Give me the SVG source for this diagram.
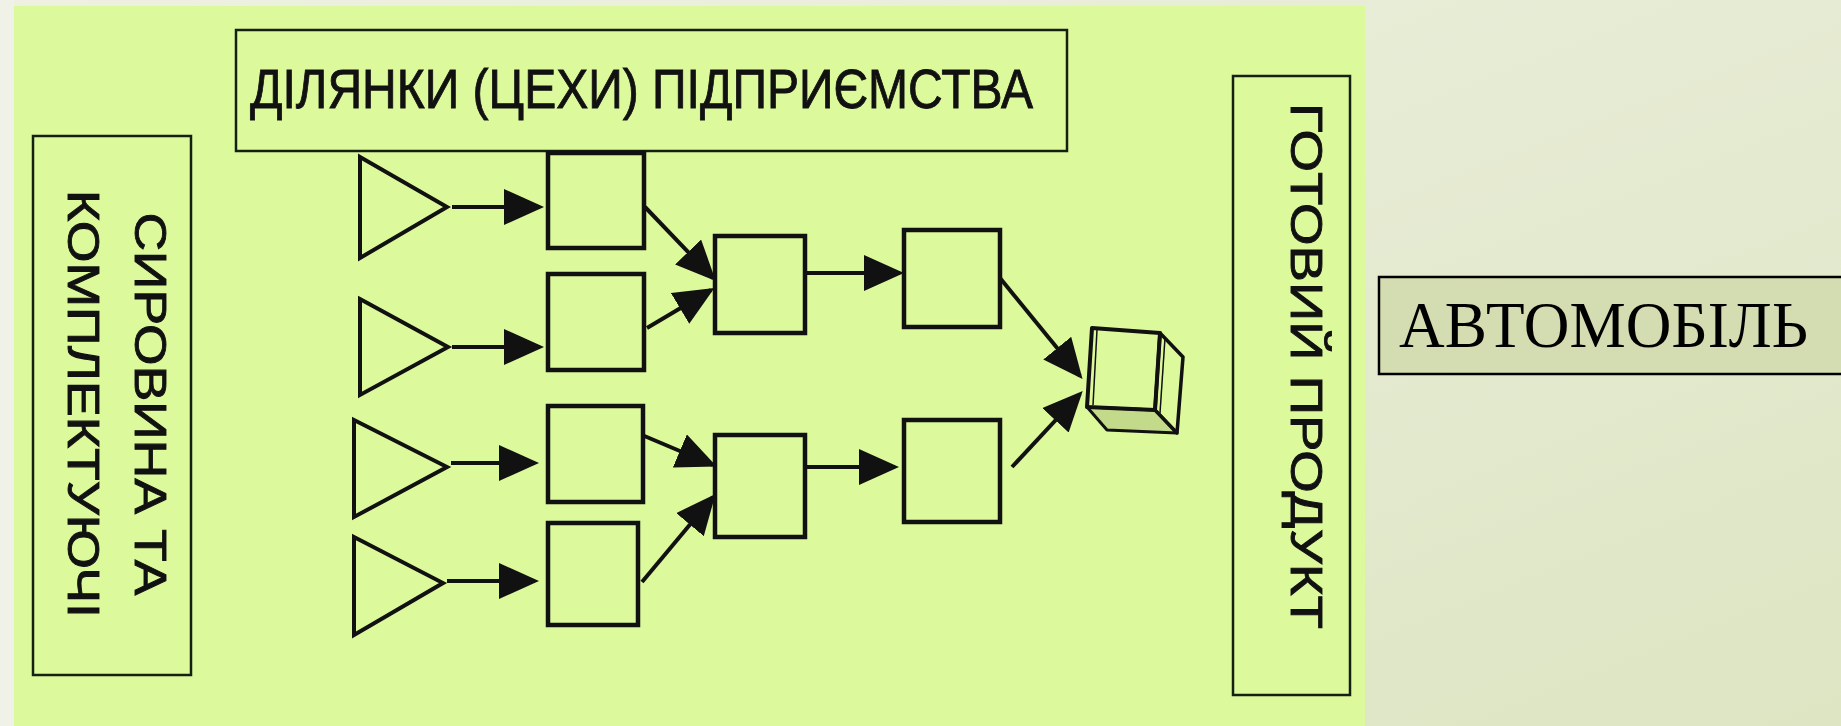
<svg xmlns="http://www.w3.org/2000/svg" width="1841" height="726" viewBox="0 0 1841 726">
  <defs>
    <linearGradient id="bg" x1="0" y1="0" x2="1" y2="1">
      <stop offset="0" stop-color="#eef1e2"/>
      <stop offset="1" stop-color="#dde5c3"/>
    </linearGradient>
    <marker id="ah" markerUnits="userSpaceOnUse" markerWidth="42" markerHeight="38" refX="36" refY="18" orient="auto" viewBox="0 0 42 38">
      <path d="M0,0 L40,18 L0,36 Z" fill="#111"/>
    </marker>
    <style>
      .frame { fill: none; stroke: #142010; stroke-width: 2.5; }
      .shape { fill: none; stroke: #111; stroke-width: 4.5; }
      .tri { fill: none; stroke: #111; stroke-width: 4; stroke-linejoin: miter; }
      .conn { fill: none; stroke: #111; stroke-width: 4; marker-end: url(#ah); }
      .sans { font-family: "Liberation Sans", Arial, sans-serif; fill: #111; stroke: #111; stroke-width: 0.9; }
      .serif { font-family: "Liberation Serif", "Times New Roman", serif; fill: #000; }
    </style>
  </defs>

  <rect x="0" y="0" width="1841" height="726" fill="url(#bg)"/>
  <rect x="0" y="0" width="14" height="726" fill="#f0f2e8"/>
  <rect x="14" y="6" width="1351" height="720" fill="#dcf99c"/>

  <g id="header">
    <rect class="frame" x="236" y="30" width="831" height="121"/>
    <text class="sans" x="250" y="108" font-size="56" textLength="783" lengthAdjust="spacingAndGlyphs">ДІЛЯНКИ (ЦЕХИ) ПІДПРИЄМСТВА</text>
  </g>

  <g id="raw-materials">
    <rect class="frame" x="33" y="136" width="158" height="539"/>
    <text class="sans" transform="translate(135,404) rotate(90)" x="0" y="0" font-size="45" text-anchor="middle" textLength="383" lengthAdjust="spacingAndGlyphs">СИРОВИНА ТА</text>
    <text class="sans" transform="translate(68,404) rotate(90)" x="0" y="0" font-size="45" text-anchor="middle" textLength="428" lengthAdjust="spacingAndGlyphs">КОМПЛЕКТУЮЧІ</text>
  </g>

  <g id="finished-product">
    <rect class="frame" x="1233" y="76" width="117" height="619"/>
    <text class="sans" transform="translate(1291,366) rotate(90)" x="0" y="0" font-size="45" text-anchor="middle" textLength="526" lengthAdjust="spacingAndGlyphs">ГОТОВИЙ ПРОДУКТ</text>
  </g>

  <g id="automobile">
    <rect x="1379" y="277" width="480" height="97" fill="#d4dcb2" stroke="#000" stroke-width="2.5"/>
    <text class="serif" x="1399" y="347" font-size="65" textLength="409" lengthAdjust="spacingAndGlyphs">АВТОМОБІЛЬ</text>
  </g>

  <g id="source-1"><polygon class="tri" points="360,157 447,207 360,258"/></g>
  <g id="source-2"><polygon class="tri" points="360,299 448,347 360,395"/></g>
  <g id="source-3"><polygon class="tri" points="354,420 447,467 354,517"/></g>
  <g id="source-4"><polygon class="tri" points="354,537 443,583 354,635"/></g>

  <g id="shop-b1"><rect class="shape" x="548" y="153" width="96" height="95"/></g>
  <g id="shop-b2"><rect class="shape" x="548" y="274" width="96" height="96"/></g>
  <g id="shop-b3"><rect class="shape" x="548" y="406" width="95" height="96"/></g>
  <g id="shop-b4"><rect class="shape" x="548" y="523" width="90" height="102"/></g>

  <g id="shop-c1"><rect class="shape" x="715" y="236" width="90" height="97"/></g>
  <g id="shop-c2"><rect class="shape" x="715" y="435" width="90" height="102"/></g>

  <g id="shop-d1"><rect class="shape" x="904" y="230" width="96" height="97"/></g>
  <g id="shop-d2"><rect class="shape" x="904" y="420" width="96" height="102"/></g>

  <g id="product-cube">
    <polygon points="1087,407 1155,410 1177,433 1107,430" fill="#c2da8a" stroke="#111" stroke-width="3" stroke-linejoin="round"/>
    <polygon points="1092,328 1160,333 1155,410 1087,407" fill="none" stroke="#111" stroke-width="4" stroke-linejoin="round"/>
    <polygon points="1160,333 1183,357 1177,433 1155,410" fill="none" stroke="#111" stroke-width="3.5" stroke-linejoin="round"/>
    <line x1="1097" y1="330" x2="1093" y2="405" stroke="#111" stroke-width="1.5"/>
    <line x1="1165" y1="338" x2="1160" y2="413" stroke="#111" stroke-width="1.5"/>
  </g>

  <g id="connectors">
    <line class="conn" x1="452" y1="207" x2="540" y2="207"/>
    <line class="conn" x1="452" y1="347" x2="540" y2="347"/>
    <line class="conn" x1="451" y1="463" x2="535" y2="463"/>
    <line class="conn" x1="447" y1="581" x2="535" y2="581"/>
    <line class="conn" x1="645" y1="207" x2="713" y2="278"/>
    <line class="conn" x1="647" y1="328" x2="711" y2="290"/>
    <line class="conn" x1="642" y1="435" x2="713" y2="465"/>
    <line class="conn" x1="642" y1="582" x2="713" y2="497"/>
    <line class="conn" x1="805" y1="273" x2="900" y2="273"/>
    <line class="conn" x1="805" y1="467" x2="895" y2="467"/>
    <line class="conn" x1="1000" y1="278" x2="1080" y2="376"/>
    <line class="conn" x1="1012" y1="467" x2="1080" y2="394"/>
  </g>
</svg>
